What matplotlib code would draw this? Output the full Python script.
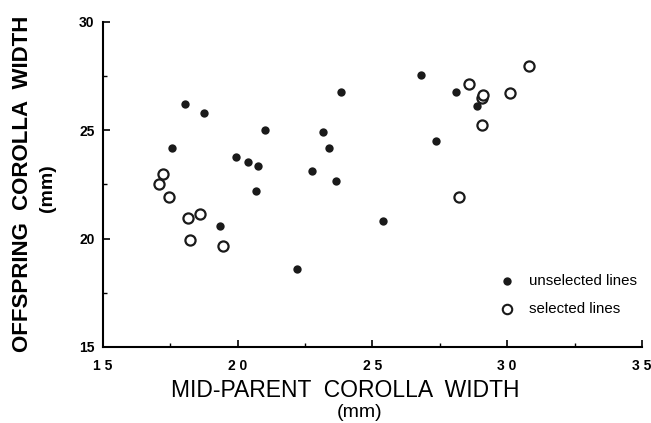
import numpy as np
import matplotlib.pyplot as plt
from matplotlib.ticker import MultipleLocator

# unselected lines (filled dots)
unsel_x = [18.05, 18.75, 17.55, 21.0, 19.95, 20.4, 20.75, 20.7, 19.35, 22.2,
           23.85, 23.15, 23.4, 22.75, 23.65, 25.4, 26.8, 28.1, 28.9, 27.35]
unsel_y = [26.2, 25.8, 24.2, 25.0, 23.75, 23.55, 23.35, 22.2, 20.6, 18.6,
           26.75, 24.9, 24.2, 23.1, 22.65, 20.8, 27.55, 26.75, 26.1, 24.5]

# selected lines (open circles)
sel_x = [17.25, 17.1, 17.45, 18.15, 18.6, 18.25, 19.45,
         28.6, 29.05, 29.1, 30.1, 30.8, 29.05, 28.2]
sel_y = [23.0, 22.5, 21.9, 20.95, 21.15, 19.95, 19.65,
         27.15, 26.5, 26.65, 26.7, 27.95, 25.25, 21.9]

xticks = [15, 20, 25, 30, 35]
xtick_labels = ['1 5', '2 0', '2 5', '3 0', '3 5']
yticks = [15, 20, 25, 30]

plt.rcParams['font.family'] = ['Liberation Sans', 'DejaVu Sans']

fig = plt.figure(figsize=(6.51, 4.23), dpi=100)
ax = fig.add_axes([0.158, 0.18, 0.828, 0.768])

ax.plot(unsel_x, unsel_y, 'o', color='#1a1a1a', ms=6, mew=0)
ax.plot(sel_x, sel_y, 'o', mfc='white', mec='#1a1a1a', ms=7.3, mew=1.6)

ax.set_xlim(15, 35)
ax.set_ylim(15, 30)
ax.spines['right'].set_visible(False)
ax.spines['top'].set_visible(False)
ax.spines['left'].set_linewidth(1.5)
ax.spines['bottom'].set_linewidth(1.5)

ax.set_xticks(xticks)
ax.set_xticklabels(xtick_labels, fontsize=10, fontweight='bold')
ax.set_yticks(yticks)
ax.set_yticklabels([str(v) for v in yticks], fontsize=10, fontweight='bold')
ax.xaxis.set_minor_locator(MultipleLocator(2.5))
ax.yaxis.set_minor_locator(MultipleLocator(2.5))
ax.tick_params(which='major', direction='in', length=5, width=1.2, pad=9)
ax.tick_params(which='minor', direction='in', length=3, width=1.0)
ax.tick_params(axis='y', pad=6)

# legend
ax.plot([30.0], [18.05], 'o', color='#1a1a1a', ms=6, mew=0)
ax.text(30.8, 18.05, 'unselected lines', fontsize=10.8, va='center')
ax.plot([30.0], [16.75], 'o', mfc='white', mec='#1a1a1a', ms=6.8, mew=1.5)
ax.text(30.8, 16.75, 'selected lines', fontsize=10.8, va='center')

fig.text(0.53, 0.078, 'MID-PARENT  COROLLA  WIDTH', fontsize=16.5,
         ha='center', va='center')
fig.text(0.553, 0.026, '(mm)', fontsize=14, ha='center', va='center')
fig.text(0.034, 0.565, 'OFFSPRING  COROLLA  WIDTH', fontsize=16,
         fontweight='bold', rotation=90, ha='center', va='center')
fig.text(0.073, 0.555, '(mm)', fontsize=14, fontweight='bold',
         rotation=90, ha='center', va='center')

fig.savefig('out.png', dpi=100)
